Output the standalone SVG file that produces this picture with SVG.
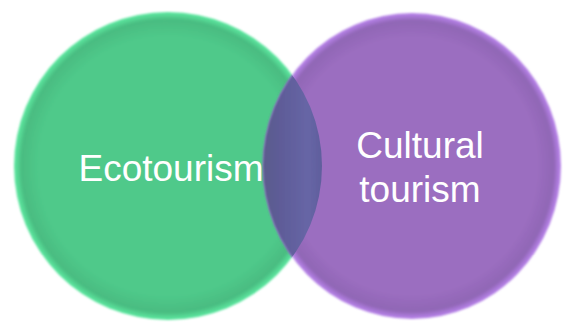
<svg xmlns="http://www.w3.org/2000/svg" width="563" height="324" viewBox="0 0 563 324">
  <defs>
    <radialGradient id="gGreen" cx="0.5" cy="0.5" r="0.5">
      <stop offset="0" stop-color="#4FC98A"/>
      <stop offset="0.84" stop-color="#4FC98A"/>
      <stop offset="0.95" stop-color="#4ABC81"/>
      <stop offset="0.99" stop-color="#59E29B"/>
      <stop offset="1" stop-color="#5BE8A0"/>
    </radialGradient>
    <radialGradient id="gPurple" cx="0.5" cy="0.5" r="0.5">
      <stop offset="0" stop-color="#9B6EC0"/>
      <stop offset="0.84" stop-color="#9B6EC0"/>
      <stop offset="0.95" stop-color="#9066B5"/>
      <stop offset="0.99" stop-color="#B37FE4"/>
      <stop offset="1" stop-color="#B884EA"/>
    </radialGradient>
    <linearGradient id="gLens" x1="263" y1="0" x2="323" y2="0" gradientUnits="userSpaceOnUse">
      <stop offset="0" stop-color="#5A5C8C"/>
      <stop offset="0.3" stop-color="#5E5C98"/>
      <stop offset="0.75" stop-color="#6766A6"/>
      <stop offset="1" stop-color="#5F5E9C"/>
    </linearGradient>
    <clipPath id="clipGreen">
      <circle cx="168" cy="166" r="154"/>
    </clipPath>
    <filter id="soft" x="-5%" y="-5%" width="110%" height="110%">
      <feGaussianBlur stdDeviation="0.9"/>
    </filter>
  </defs>
  <style>
    .lbl { font-family: "Liberation Sans", Arial, sans-serif; font-size: 37px; fill: #FFFFFF; text-anchor: middle; }
  </style>
  <rect width="563" height="324" fill="#FFFFFF"/>
  <g id="ecotourism">
    <circle cx="168" cy="166" r="154" fill="url(#gGreen)" filter="url(#soft)"/>
  </g>
  <g id="cultural-tourism">
    <ellipse cx="412" cy="166" rx="149" ry="153" fill="url(#gPurple)" filter="url(#soft)"/>
  </g>
  <g id="overlap">
    <ellipse cx="412" cy="166" rx="149" ry="153" fill="url(#gLens)" clip-path="url(#clipGreen)" filter="url(#soft)"/>
  </g>
  <g id="connectors"/>
  <g id="labels">
    <text class="lbl" x="171" y="181">Ecotourism</text>
    <text class="lbl" x="420" y="158">Cultural</text>
    <text class="lbl" x="420" y="202">tourism</text>
  </g>
</svg>
